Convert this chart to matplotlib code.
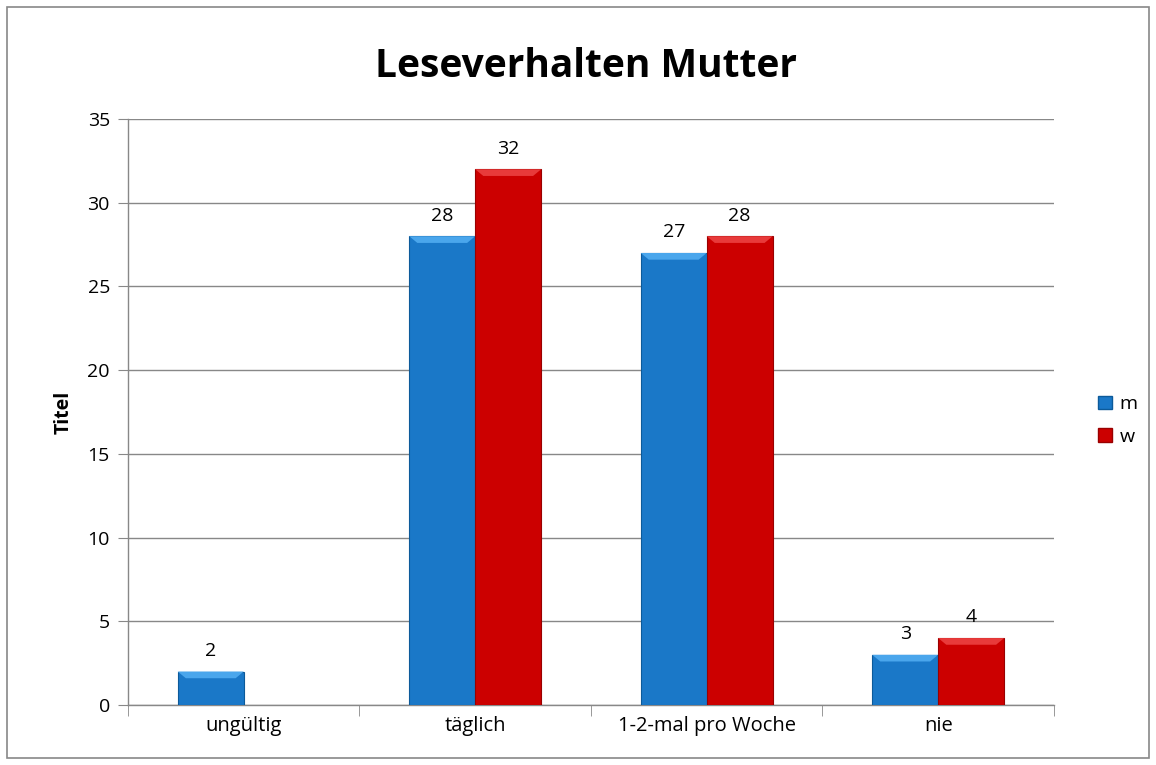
import numpy as np
import matplotlib
matplotlib.use("Agg")
import matplotlib.pyplot as plt
from matplotlib.patches import Rectangle, Polygon

plt.rcParams["font.family"] = ["Open Sans", "DejaVu Sans"]

# ---- Daten ----
categories = ["ungültig", "täglich", "1-2-mal pro Woche", "nie"]
series_names = ["m", "w"]
values_m = [2, 28, 27, 3]
values_w = [0, 32, 28, 4]
colors = {"m": "#1a78c8", "w": "#cc0000"}
edge_colors = {"m": "#0c5a9a", "w": "#990000"}
light_colors = {"m": "#4aa6ec", "w": "#e83a3a"}

fig = plt.figure(figsize=(11.56, 7.65), dpi=100)
fig.patches.append(Rectangle((0.006, 0.009), 0.988, 0.982, transform=fig.transFigure,
                             fill=False, edgecolor="#888888", linewidth=1.2))
ax = fig.add_axes([0.1107, 0.0784, 0.801, 0.766])

x = np.arange(len(categories))
width = 0.285


def bevel_bar(xc, h, name):
    if h <= 0:
        return
    x0 = xc - width / 2
    ax.add_patch(Rectangle((x0, 0), width, h, facecolor=colors[name],
                           edgecolor=edge_colors[name], linewidth=0.8, zorder=3))
    # heller Rand oben (Fase)
    dy = 0.4
    dx = 0.035
    ax.add_patch(Polygon([(x0, h), (x0 + width, h), (x0 + width - dx, h - dy), (x0 + dx, h - dy)],
                         closed=True, facecolor=light_colors[name], edgecolor="none", zorder=4))
    ax.text(xc, h + 0.7, f"{h:g}", ha="center", va="bottom", fontsize=14, zorder=5)


for i in range(len(categories)):
    bevel_bar(x[i] - width / 2, values_m[i], "m")
    bevel_bar(x[i] + width / 2, values_w[i], "w")

ax.set_xlim(-0.5, len(categories) - 0.5)
ax.set_ylim(0, 35)
ax.set_yticks(np.arange(0, 36, 5))
ax.set_xticks(x)
ax.set_xticklabels(categories, fontsize=14.5)
ax.set_xticks(np.arange(-0.5, len(categories), 1), minor=True)
ax.tick_params(axis="x", which="major", length=0, pad=8)
ax.tick_params(axis="x", which="minor", length=8, color="#888888", direction="out")
ax.tick_params(axis="y", labelsize=14, length=7, color="#888888", direction="out", pad=6)
ax.grid(axis="y", color="#888888", linewidth=1.0, zorder=0)
ax.set_axisbelow(True)
for s in ["top", "right"]:
    ax.spines[s].set_visible(False)
for s in ["left", "bottom"]:
    ax.spines[s].set_color("#888888")
    ax.spines[s].set_linewidth(1.0)

ax.set_ylabel("Titel", fontsize=14, fontweight="bold", labelpad=10)
fig.text(0.507, 0.913, "Leseverhalten Mutter", ha="center", va="center",
         fontsize=28, fontweight="bold")

handles = [Rectangle((0, 0), 1, 1, facecolor=colors[n], edgecolor=edge_colors[n]) for n in series_names]
fig.legend(handles, series_names, loc="center left", bbox_to_anchor=(0.935, 0.45),
           frameon=False, fontsize=14, handlelength=0.7, handleheight=0.7,
           handletextpad=0.4, labelspacing=0.75)

fig.savefig("out.png", dpi=100, facecolor="white")
